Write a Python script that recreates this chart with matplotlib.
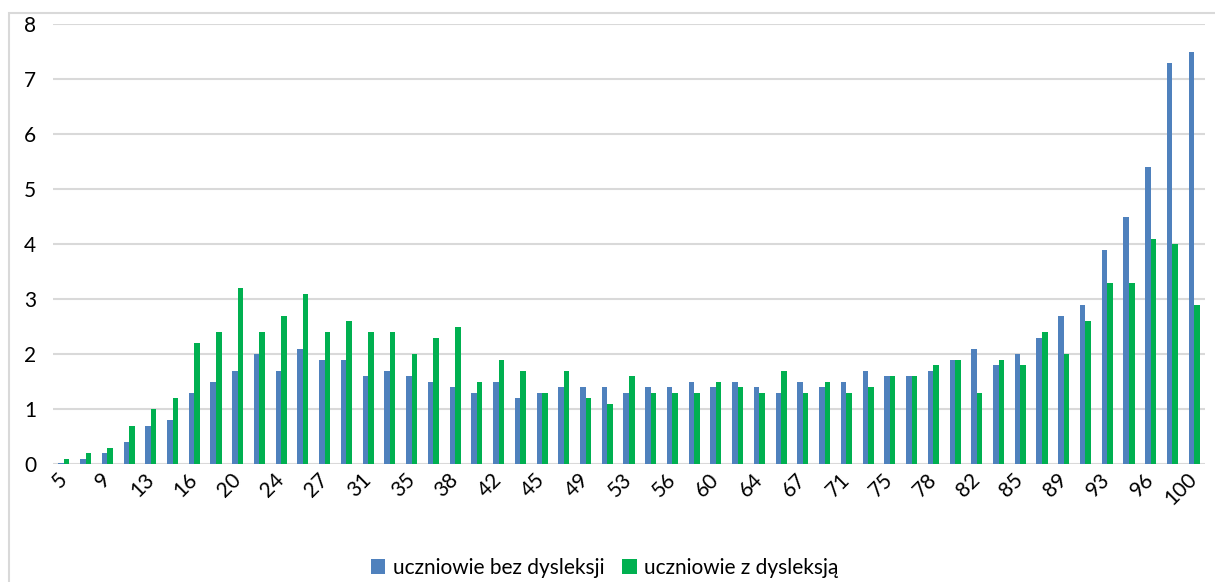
import numpy as np
import matplotlib.pyplot as plt
from matplotlib.patches import Rectangle

# ─────────────────────────────────────────────────────────────────────────────
# Data
# ─────────────────────────────────────────────────────────────────────────────

categories = [5, 7, 9, 11, 13, 14, 16, 18, 20, 22, 24, 25, 27, 29, 31, 33, 35,
              36, 38, 40, 42, 44, 45, 47, 49, 51, 53, 55, 56, 58, 60, 62, 64,
              66, 67, 69, 71, 73, 75, 76, 78, 80, 82, 84, 85, 87, 89, 91, 93,
              95, 96, 98, 100]

bez_dysleksji = [0.02, 0.1, 0.2, 0.4, 0.7, 0.8, 1.3, 1.5, 1.7, 2.0, 1.7, 2.1,
                 1.9, 1.9, 1.6, 1.7, 1.6, 1.5, 1.4, 1.3, 1.5, 1.2, 1.3, 1.4,
                 1.4, 1.4, 1.3, 1.4, 1.4, 1.5, 1.4, 1.5, 1.4, 1.3, 1.5, 1.4,
                 1.5, 1.7, 1.6, 1.6, 1.7, 1.9, 2.1, 1.8, 2.0, 2.3, 2.7, 2.9,
                 3.9, 4.5, 5.4, 7.3, 7.5]

z_dysleksja = [0.1, 0.2, 0.3, 0.7, 1.0, 1.2, 2.2, 2.4, 3.2, 2.4, 2.7, 3.1,
               2.4, 2.6, 2.4, 2.4, 2.0, 2.3, 2.5, 1.5, 1.9, 1.7, 1.3, 1.7,
               1.2, 1.1, 1.6, 1.3, 1.3, 1.3, 1.5, 1.4, 1.3, 1.7, 1.3, 1.5,
               1.3, 1.4, 1.6, 1.6, 1.8, 1.9, 1.3, 1.9, 1.8, 2.4, 2.0, 2.6,
               3.3, 3.3, 4.1, 4.0, 2.9]

series_labels = ['uczniowie bez dysleksji', 'uczniowie z dysleksją']

# ─────────────────────────────────────────────────────────────────────────────
# Plot
# ─────────────────────────────────────────────────────────────────────────────

plt.rcParams['font.family'] = ['Lato', 'DejaVu Sans']

BLUE = '#4F81BD'
GREEN = '#00B050'
GRID = '#D9D9D9'

fig = plt.figure(figsize=(12.15, 5.82), dpi=100)
ax = fig.add_axes([0.0436, 0.2027, 0.9482, 0.7555])

# light frame round the whole chart (cut off at right/bottom like the source)
fig.patches.append(Rectangle((9 / 1215, -0.05), 1.2, 1 - 13 / 582 + 0.05,
                             transform=fig.transFigure, fill=False,
                             edgecolor=GRID, linewidth=1.5))

x = np.arange(len(categories))
w = 0.255
ax.bar(x - w / 2, bez_dysleksji, width=w, color=BLUE, label=series_labels[0], zorder=3)
ax.bar(x + w / 2, z_dysleksja, width=w, color=GREEN, label=series_labels[1], zorder=3)

ax.set_xlim(-0.5, len(categories) - 0.5)
ax.set_ylim(0, 8)
ax.set_yticks(range(0, 9))
ax.yaxis.grid(True, color=GRID, linewidth=1.5, zorder=0)
ax.set_axisbelow(True)

ax.set_xticks(x[::2])
ax.set_xticklabels([str(c) for c in categories[::2]], rotation=45,
                   ha='right', va='center', rotation_mode='anchor')
ax.tick_params(axis='both', length=0, labelsize=15, colors='black')
ax.tick_params(axis='x', pad=9)
ax.tick_params(axis='y', pad=12)

for s in ax.spines.values():
    s.set_visible(False)

# legend centred on the whole chart area, like Excel does
fig.legend(loc='center', bbox_to_anchor=(604.5 / 1215, 1 - 568 / 582), ncol=2,
           frameon=False, fontsize=15, handlelength=0.7, handleheight=0.7,
           handletextpad=0.35, columnspacing=0.85)

plt.savefig('out.png', dpi=100)
plt.close()
